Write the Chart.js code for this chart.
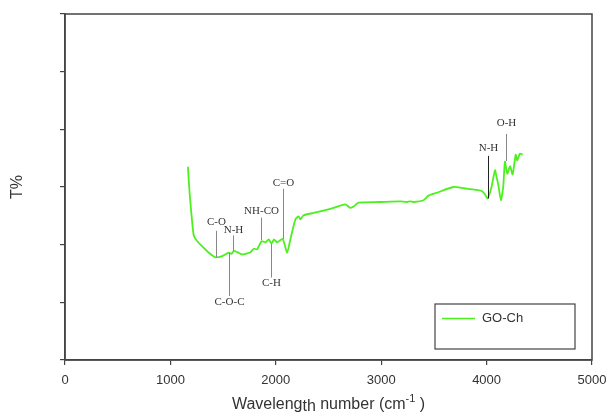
<!DOCTYPE html>
<html>
<head>
<meta charset="utf-8">
<script src="https://cdn.jsdelivr.net/npm/chart.js@4.4.0/dist/chart.umd.min.js"></script>
<style>
  html, body { margin: 0; padding: 0; background: #fff; }
  #wrap { width: 611px; height: 415px; position: relative; }
</style>
</head>
<body>
<div id="wrap"><canvas id="ftir"></canvas></div>
<script>
// FTIR spectrum of GO-Ch
const seriesLabel = 'GO-Ch';
const waveX = [1166, 1182, 1207, 1223, 1255, 1302, 1365, 1428, 1491, 1554, 1580, 1601, 1634, 1681,
  1728, 1760, 1791, 1823, 1864, 1902, 1933, 1958, 1984, 2012, 2065, 2107, 2138, 2186, 2217, 2233,
  2264, 2359, 2517, 2659, 2706, 2738, 2785, 2991, 3180, 3243, 3275, 3306, 3401, 3448, 3527, 3685,
  3812, 3906, 3954, 3985, 4007, 4026, 4048, 4080, 4096, 4111, 4136, 4158, 4174, 4196, 4222, 4247,
  4276, 4291, 4316, 4342];
const transY = [33.5, 29.0, 23.8, 21.5, 20.6, 19.7, 18.6, 17.8, 18.0, 18.6, 18.4, 18.9, 18.7, 18.3,
  18.5, 18.7, 19.3, 19.2, 20.6, 20.4, 20.9, 20.2, 20.9, 20.4, 21.0, 18.6, 20.9, 24.4, 24.9, 24.4,
  25.1, 25.5, 26.2, 27.0, 26.4, 26.6, 27.3, 27.4, 27.5, 27.4, 27.5, 27.4, 27.7, 28.5, 29.0, 30.0,
  29.7, 29.5, 29.3, 28.7, 28.0, 28.7, 30.1, 32.9, 31.6, 30.4, 27.7, 30.1, 34.4, 32.3, 33.6, 32.2,
  35.6, 34.6, 35.8, 35.6];

// x ticks
const xTicks = [0, 1000, 2000, 3000, 4000, 5000];

// band assignments
const annoLabels = ['C-O', 'N-H', 'C-O-C', 'NH-CO', 'C-H', 'C=O', 'N-H', 'O-H'];
const annoX = [1428, 1595, 1554, 1864, 1955, 2065, 4016, 4184];
const annoFrom = [17.8, 18.9, 18.6, 20.8, 20.1, 21.0, 28.0, 34.5];
const annoTo = [22.4, 21.6, 11.1, 24.7, 14.3, 29.7, 35.4, 39.2];
const annoTextY = [23.9, 22.5, 10.1, 25.8, 13.3, 30.7, 36.8, 41.0];

const frameColor = '#444';
const lineColor = '#4cf01e';
const sans = '"Liberation Sans", Arial, sans-serif';

const points = waveX.map((x, i) => ({ x: x, y: transY[i] }));

const extras = {
    id: 'extras',
    afterDatasetsDraw(chart) {
        const { ctx, chartArea: a, scales: { x, y } } = chart;
        ctx.save();

        // band markers
        ctx.font = '11px "Liberation Serif", "DejaVu Serif", serif';
        ctx.textAlign = 'center';
        ctx.textBaseline = 'middle';
        annoLabels.forEach((lab, i) => {
            const px = Math.round(x.getPixelForValue(annoX[i])) + 0.5;
            ctx.strokeStyle = i === 6 ? '#222' : '#888';
            ctx.lineWidth = 1;
            ctx.beginPath();
            ctx.moveTo(px, y.getPixelForValue(annoFrom[i]));
            ctx.lineTo(px, y.getPixelForValue(annoTo[i]));
            ctx.stroke();
            ctx.fillStyle = '#333';
            ctx.fillText(lab, px, y.getPixelForValue(annoTextY[i]));
        });

        // frame
        ctx.strokeStyle = frameColor;
        ctx.lineWidth = 1.5;
        ctx.strokeRect(a.left, a.top, a.right - a.left, a.bottom - a.top);

        // legend box
        const bw = 140, bh = 45;
        const bx = a.right - 17 - bw, by = a.bottom - 11 - bh;
        ctx.fillStyle = '#fff';
        ctx.fillRect(bx, by, bw, bh);
        ctx.strokeStyle = frameColor;
        ctx.lineWidth = 1.2;
        ctx.strokeRect(bx, by, bw, bh);
        ctx.strokeStyle = lineColor;
        ctx.lineWidth = 1.5;
        ctx.beginPath();
        ctx.moveTo(bx + 7, by + 14.5);
        ctx.lineTo(bx + 40, by + 14.5);
        ctx.stroke();
        ctx.fillStyle = '#333';
        ctx.textAlign = 'left';
        ctx.font = '13px ' + sans;
        ctx.fillText(seriesLabel, bx + 47, by + 14.5);

        // y title
        ctx.save();
        ctx.translate(18, (a.top + a.bottom) / 2);
        ctx.rotate(-Math.PI / 2);
        ctx.textAlign = 'center';
        ctx.font = '16px ' + sans;
        ctx.fillText('T%', 0, 0);
        ctx.restore();

        // x title, with the lowered "th" of the original
        const cx = (a.left + a.right) / 2, ty = 405;
        const big = '16px ' + sans;
        const parts = [
            ['Waveleng', big, 0], ['th', big, 2], [' number (cm', big, 0],
            ['-1', '11px ' + sans, -6], [' )', big, 0]
        ];
        let total = 0;
        parts.forEach(p => { ctx.font = p[1]; total += ctx.measureText(p[0]).width; });
        let cur = cx - total / 2;
        parts.forEach(p => {
            ctx.font = p[1];
            ctx.fillText(p[0], cur, ty + p[2]);
            cur += ctx.measureText(p[0]).width;
        });

        ctx.restore();
    }
};

new Chart(document.getElementById('ftir'), {
    type: 'line',
    data: {
        datasets: [{
            label: seriesLabel,
            data: points,
            borderColor: lineColor,
            borderWidth: 1.8,
            pointRadius: 0,
            tension: 0.2,
            fill: false
        }]
    },
    options: {
        responsive: true,
        maintainAspectRatio: false,
        animation: false,
        layout: { padding: { top: 14, right: 19, left: 0, bottom: 0 } },
        plugins: { legend: { display: false }, tooltip: { enabled: false } },
        scales: {
            x: {
                type: 'linear',
                min: 0,
                max: 5000,
                afterBuildTicks: s => { s.ticks = xTicks.map(v => ({ value: v })); },
                afterFit: s => { s.height = 55; s.paddingLeft = 0; s.paddingRight = 0; },
                grid: { drawOnChartArea: false, drawTicks: true, tickLength: 5, color: frameColor, lineWidth: 1.2 },
                border: { color: frameColor, width: 1.5 },
                ticks: {
                    padding: 8,
                    color: '#333',
                    font: { family: sans, size: 13 },
                    maxRotation: 0,
                    callback: v => String(v)
                }
            },
            y: {
                min: 0,
                max: 60,
                afterFit: s => { s.width = 65; s.paddingTop = 0; s.paddingBottom = 0; },
                grid: { drawOnChartArea: false, drawTicks: true, tickLength: 5, color: frameColor, lineWidth: 1.2 },
                border: { color: frameColor, width: 1.5 },
                ticks: { stepSize: 10, display: false }
            }
        }
    },
    plugins: [extras]
});
</script>
</body>
</html>
